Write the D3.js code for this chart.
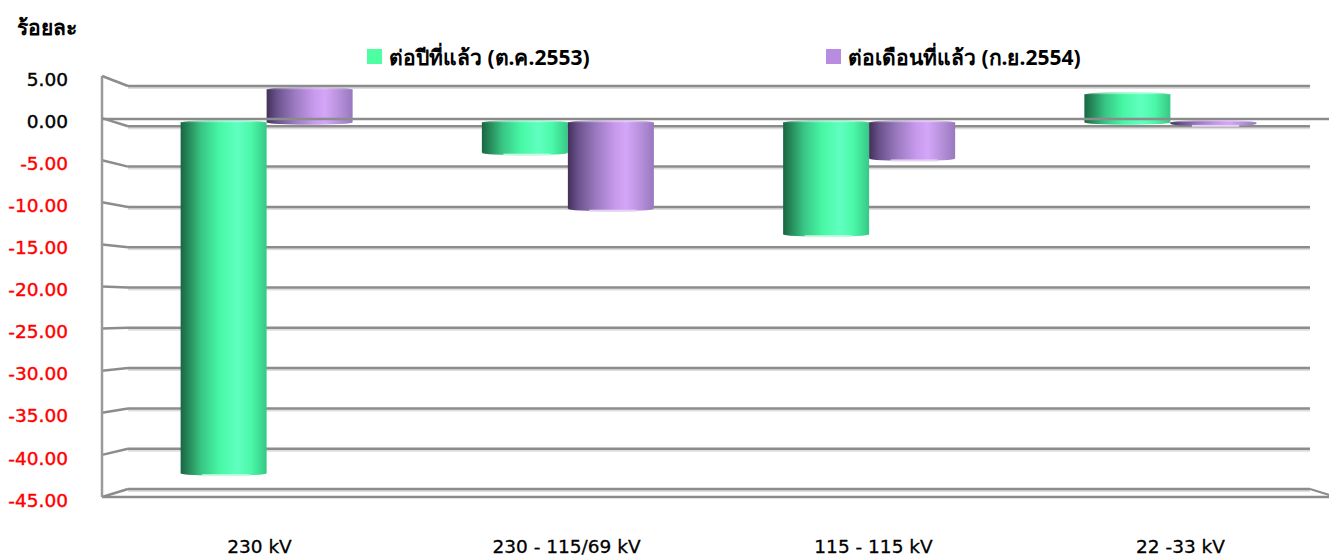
<!DOCTYPE html>
<html>
<head>
<meta charset="utf-8">
<script src="https://cdn.jsdelivr.net/npm/d3@7"></script>
<style>
body { margin: 0; background: #fff; }
svg { display: block; }
</style>
</head>
<body>
<div id="chart"></div>
<script>
var categories = ['230 kV', '230 - 115/69 kV', '115 - 115 kV', '22 -33 kV'];
var seriesNames = ['ต่อปีที่แล้ว (ต.ค.2553)', 'ต่อเดือนที่แล้ว (ก.ย.2554)'];
var yearValues = [-42.6, -3.7, -13.6, 3.4];
var monthValues = [4.0, -10.5, -4.4, -0.2];
var yTicks = [5, 0, -5, -10, -15, -20, -25, -30, -35, -40, -45];

var width = 1329, height = 557;
var svg = d3.select('#chart').append('svg')
    .attr('width', width)
    .attr('height', height)
var defs = svg.append('defs');

var colors = {
    year: {legend: '#4dffa0', stops: [['0%', '#186642'], ['10%', '#288c5c'], ['24%', '#38c585'], ['45%', '#47f7a4'], ['66%', '#60ffc0'], ['82%', '#4bf8a8'], ['100%', '#36c886']]},
    month: {legend: '#b88ce0', stops: [['0%', '#433059'], ['12%', '#6a528c'], ['32%', '#9a79bf'], ['56%', '#c99bef'], ['68%', '#d4a6f8'], ['86%', '#b48ed8'], ['100%', '#9878be']]}
};
var keys = ['year', 'month'];
keys.forEach(function (k) {
    var g = defs.append('linearGradient').attr('id', 'grad-' + k)
        .attr('x1', '0%').attr('x2', '100%').attr('y1', '0%').attr('y2', '0%');
    colors[k].stops.forEach(function (s) {
        g.append('stop').attr('offset', s[0]).attr('stop-color', s[1]);
    });
});

// front, back and bar-depth scales of the 3d box
var yFront = d3.scaleLinear().domain([5, -45]).range([76, 497]);
var yBack = d3.scaleLinear().domain([5, -45]).range([86, 489]);
var yBar = d3.scaleLinear().domain([5, -45]).range([81, 493]);
var xFront = [102, 1336], xBack = [128, 1310];

var xBar = d3.scaleBand().domain(categories).range([116, 1321]);
var xInner = d3.scaleBand().domain(keys).range([-86, 86]);
var xLabel = d3.scaleBand().domain(categories).range([106, 1334]);

var fmt = d3.formatLocale({decimal: '.', thousands: ',', grouping: [3], currency: ['', ''], minus: '-'}).format('.2f');

// back wall gridlines
var grid = svg.append('g');
yTicks.forEach(function (v) {
    grid.append('line')
        .attr('x1', xBack[0]).attr('x2', xBack[1])
        .attr('y1', yBack(v) + 2).attr('y2', yBack(v) + 2)
        .attr('stroke', '#dedede').attr('stroke-width', 2)
    grid.append('line')
        .attr('x1', xBack[0]).attr('x2', xBack[1])
        .attr('y1', yBack(v)).attr('y2', yBack(v))
        .attr('stroke', '#8c8c8c').attr('stroke-width', 2.5)
    grid.append('line')
        .attr('x1', xFront[0]).attr('x2', xBack[0])
        .attr('y1', yFront(v)).attr('y2', yBack(v))
        .attr('stroke', '#8c8c8c').attr('stroke-width', 2.5)
});
// floor front edge and side
grid.append('line')
    .attr('x1', xFront[0]).attr('x2', xFront[1])
    .attr('y1', yFront(-45)).attr('y2', yFront(-45))
    .attr('stroke', '#8c8c8c').attr('stroke-width', 2.5)
grid.append('line')
    .attr('x1', xBack[1]).attr('x2', xFront[1])
    .attr('y1', yBack(-45)).attr('y2', yFront(-45))
    .attr('stroke', '#8c8c8c').attr('stroke-width', 2)
// left wall front edge
grid.append('line')
    .attr('x1', xFront[0]).attr('x2', xFront[0])
    .attr('y1', yFront(5)).attr('y2', yFront(-45))
    .attr('stroke', '#9a9a9a').attr('stroke-width', 2.5)

// bars as cylinders
var data = [];
categories.forEach(function (c, i) {
    data.push({cat: c, key: 'year', value: yearValues[i]});
    data.push({cat: c, key: 'month', value: monthValues[i]});
});
var bw = xInner.bandwidth();
var bars = svg.append('g').selectAll('g')
    .data(data)
    .enter()
    .append('g')
    .attr('transform', function (d) {
        return 'translate(' + (xBar(d.cat) + xBar.bandwidth() / 2 + xInner(d.key)) + ',0)';
    });
bars.append('ellipse')
    .attr('cx', bw / 2)
    .attr('cy', function (d) { return Math.max(yBar(0), yBar(d.value)); })
    .attr('rx', bw / 2).attr('ry', 2.5)
    .attr('fill', function (d) { return 'url(#grad-' + d.key + ')'; })
bars.append('rect')
    .attr('x', 0)
    .attr('width', bw)
    .attr('y', function (d) { return Math.min(yBar(0), yBar(d.value)); })
    .attr('height', function (d) { return Math.abs(yBar(d.value) - yBar(0)); })
    .attr('fill', function (d) { return 'url(#grad-' + d.key + ')'; })
bars.append('ellipse')
    .attr('cx', bw / 2)
    .attr('cy', function (d) { return Math.min(yBar(0), yBar(d.value)); })
    .attr('rx', bw / 2 - 1).attr('ry', 2)
    .attr('fill', function (d) { return 'url(#grad-' + d.key + ')'; })
    .attr('opacity', 0.6)
bars.filter(function (d) { return d.value < 0; })
    .append('rect')
    .attr('x', bw * 0.25).attr('width', bw * 0.55)
    .attr('y', function (d) { return yBar(d.value) + 1; })
    .attr('height', 2)
    .attr('fill', function (d) { return d.key == 'year' ? '#cdf7e2' : '#e3d3f0'; })

// front zero line over the bars
svg.append('line')
    .attr('x1', xFront[0]).attr('x2', xFront[1])
    .attr('y1', yFront(0) + 1).attr('y2', yFront(0) + 1)
    .attr('stroke', '#8c8c8c').attr('stroke-width', 2.5)

// y tick labels
svg.append('g').selectAll('text')
    .data(yTicks)
    .enter()
    .append('text')
    .attr('x', 68)
    .attr('y', function (d) { return yFront(d) + 3; })
    .attr('dy', '0.36em')
    .attr('text-anchor', 'end')
    .attr('font-family', 'DejaVu Sans, sans-serif')
    .attr('font-size', 18.5)
    .attr('fill', function (d) { return d < 0 ? '#ff0000' : '#000'; })
    .attr('stroke', function (d) { return d < 0 ? '#ff0000' : '#000'; })
    .attr('stroke-width', 0.4)
    .text(function (d) { return fmt(d); })

// category labels
svg.append('g').selectAll('text')
    .data(categories)
    .enter()
    .append('text')
    .attr('x', function (d) { return xLabel(d) + xLabel.bandwidth() / 2; })
    .attr('y', 553)
    .attr('text-anchor', 'middle')
    .attr('font-family', 'DejaVu Sans, sans-serif')
    .attr('font-size', 18.5)
    .attr('fill', '#000')
    .attr('stroke', '#000')
    .attr('stroke-width', 0.3)
    .text(function (d) { return d; })

// axis title
svg.append('text')
    .attr('x', 17).attr('y', 35)
    .attr('font-family', 'Tahoma, Noto Sans, sans-serif')
    .attr('font-weight', 'bold')
    .attr('font-size', 21)
    .text('ร้อยละ')

// legend
var legendX = [367, 826];
var legend = svg.append('g').selectAll('g')
    .data(keys)
    .enter()
    .append('g')
    .attr('transform', function (d, i) { return 'translate(' + legendX[i] + ',49)'; });
legend.append('rect')
    .attr('width', 15).attr('height', 15)
    .attr('fill', function (d) { return colors[d].legend; })
legend.append('text')
    .attr('x', 22).attr('y', 16)
    .attr('font-family', 'Tahoma, Noto Sans, sans-serif')
    .attr('font-weight', 'bold')
    .attr('font-size', 21)
    .text(function (d, i) { return seriesNames[i]; })
</script>
</body>
</html>
